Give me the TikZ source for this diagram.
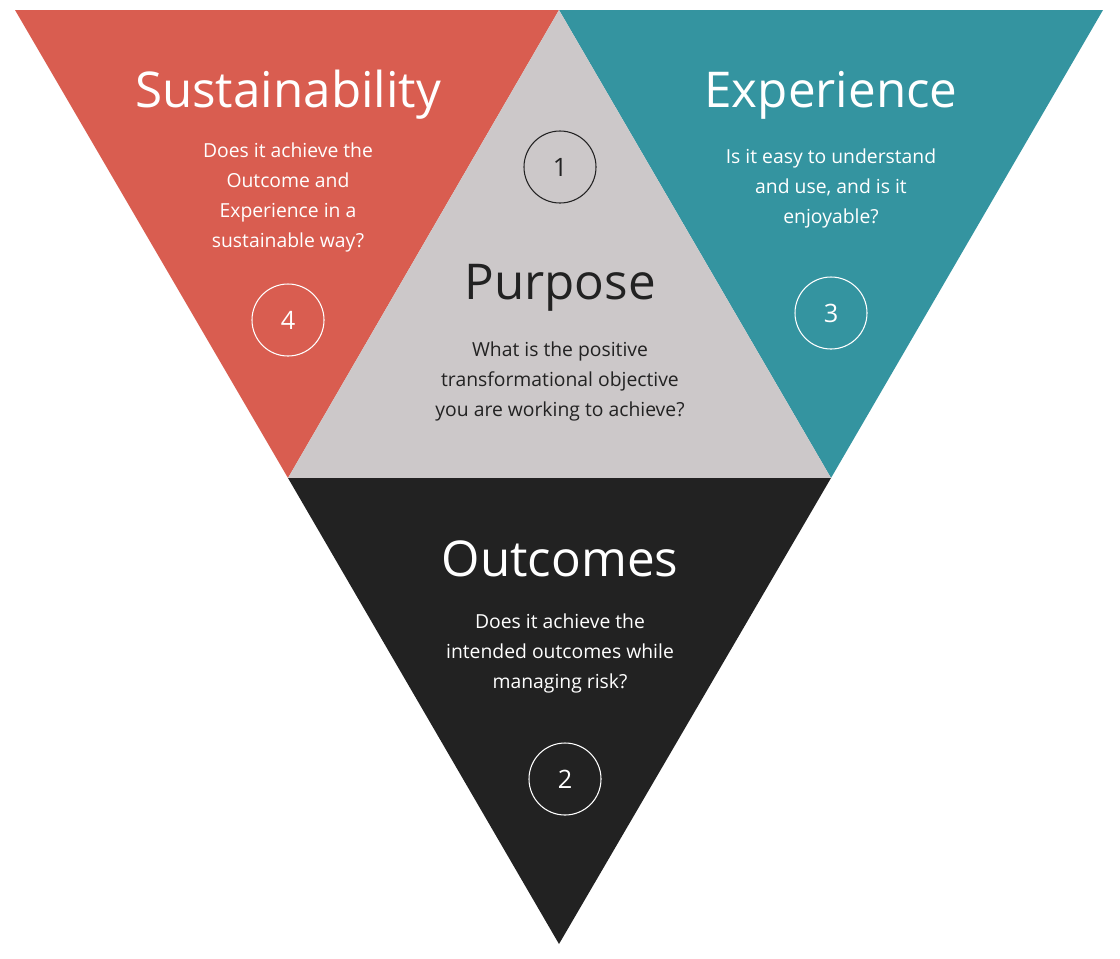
\documentclass[tikz,border=0pt]{standalone}
\usepackage{fontspec}
\setmainfont{Open Sans}
\definecolor{cred}{HTML}{D95D50}
\definecolor{cteal}{HTML}{3494A0}
\definecolor{cgrey}{HTML}{CCC8C9}
\definecolor{cblack}{HTML}{222222}
\begin{document}
\begin{tikzpicture}[x=0.75pt,y=-0.75pt,
  title/.style={font=\fontsize{37}{44}\selectfont},
  body/.style={font=\fontsize{14.5}{22.5}\selectfont,align=center},
  num/.style={circle,draw,line width=0.8pt,minimum size=54pt,inner sep=0pt,font=\fontsize{19}{22}\selectfont}]
\useasboundingbox (0,0) rectangle (1120,958);
\coordinate (tl) at (15,10); \coordinate (tm) at (559,10); \coordinate (tr) at (1103,10);
\coordinate (ml) at (288,478); \coordinate (mr) at (831,478); \coordinate (b) at (559,944);
\fill[cred] (tl) -- (tm) -- (ml) -- cycle;
\fill[cteal] (tm) -- (tr) -- (mr) -- cycle;
\fill[cgrey] (tm) -- (mr) -- (ml) -- cycle;
\fill[cblack] (ml) -- (mr) -- (b) -- cycle;
\node[title,white] (st) at (288,95) {Sustainability};
\node[body,white] (sb) at (288,197) {Does it achieve the\\Outcome and\\Experience in a\\sustainable way?};
\node[num,white] (n4) at (288,320) {4};
\node[title,white] (et) at (831,95) {Experience};
\node[body,white] (eb) at (831,188) {Is it easy to understand\\and use, and is it\\enjoyable?};
\node[num,white] (n3) at (831,313) {3};
\node[num,cblack] (n1) at (560,167) {1};
\node[title,cblack] (pt) at (560,288) {Purpose};
\node[body,cblack] (pb) at (560,381) {What is the positive\\transformational objective\\you are working to achieve?};
\node[title,white] (ot) at (560,559) {Outcomes};
\node[body,white] (ob) at (560,653) {Does it achieve the\\intended outcomes while\\managing risk?};
\node[num,white] (n2) at (565,779) {2};
\end{tikzpicture}
\end{document}
